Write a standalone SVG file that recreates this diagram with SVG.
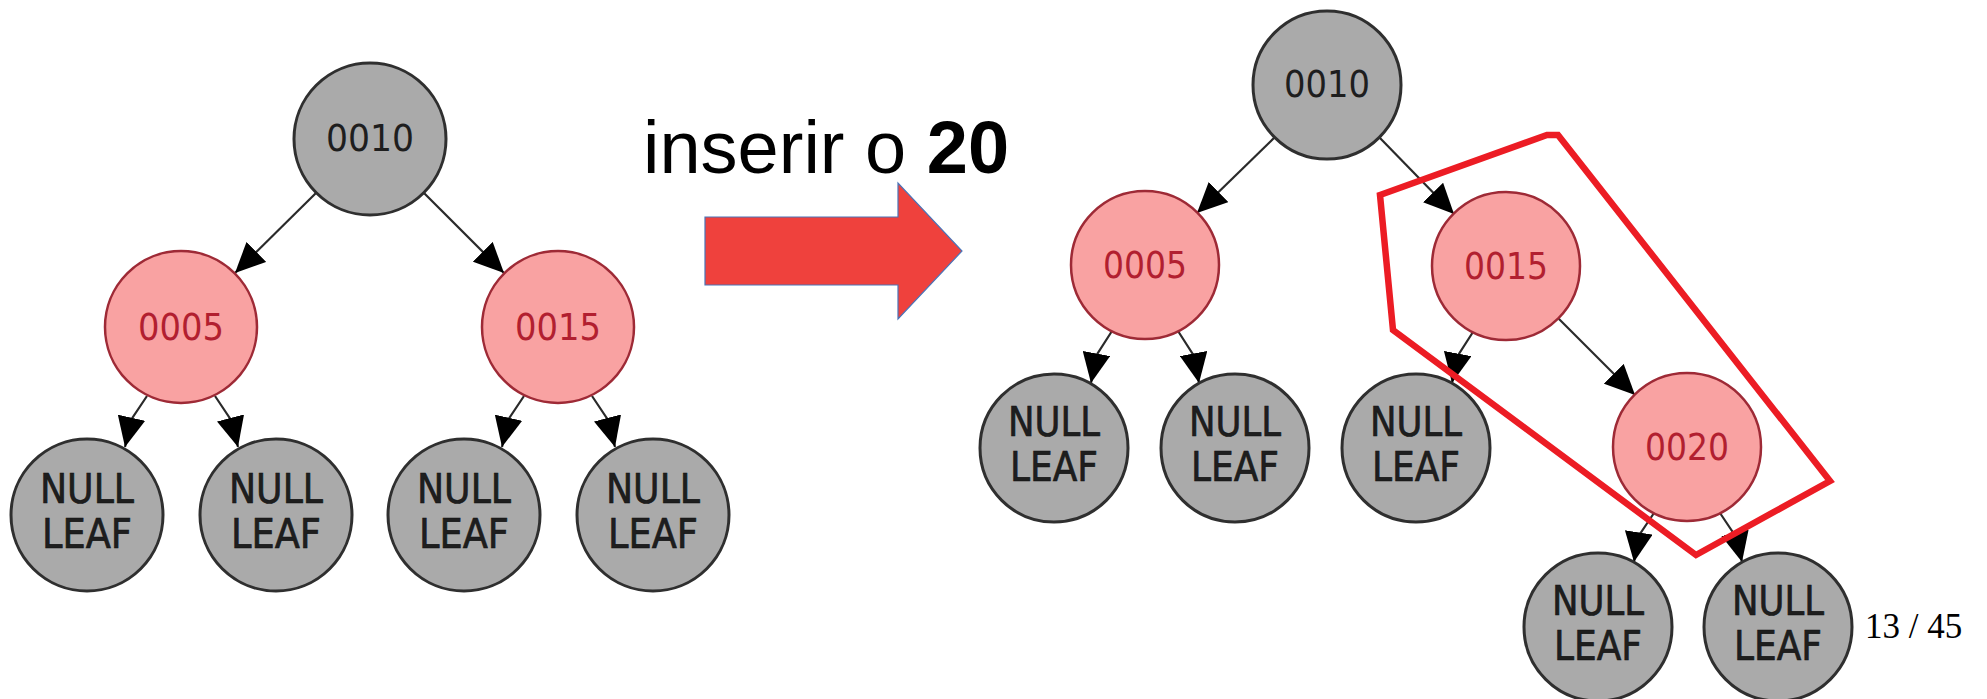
<svg xmlns="http://www.w3.org/2000/svg" width="1987" height="699" viewBox="0 0 1987 699">
<style>
.blk circle{fill:#aaaaaa;stroke:#2f2f2f;stroke-width:3}
.red circle{fill:#f9a2a2;stroke:#9e2a36;stroke-width:2.5}
.lbl{font-family:"DejaVu Sans Condensed","DejaVu Sans",sans-serif;font-size:38px;text-anchor:middle}
.blk text{fill:#1e1e1e}
.red text{fill:#b21f30}
.nl{font-family:"DejaVu Sans Condensed","DejaVu Sans",sans-serif;font-size:41px;text-anchor:middle;fill:#111;stroke:#111;stroke-width:0.6}
.edge{fill:none;stroke:#2a2a2a;stroke-width:2.2;marker-end:url(#ah)}
.title{font-family:"Liberation Sans",Arial,sans-serif;font-size:74px;fill:#000}
</style>
<defs>
<marker id="ah" markerUnits="userSpaceOnUse" viewBox="0 0 30 28" refX="30" refY="14" markerWidth="30" markerHeight="28" orient="auto">
<path d="M0,0 L30,14 L0,28 z" fill="#000"/>
</marker>
</defs>

<g id="connectors">
<!-- left tree -->
<path class="edge" d="M316,193 L235,273"/>
<path class="edge" d="M424,193 L504,273"/>
<path class="edge" d="M147,396 L131,420 L125,447"/>
<path class="edge" d="M215,396 L231,420 L238,447"/>
<path class="edge" d="M524,396 L508,420 L502,447"/>
<path class="edge" d="M592,396 L608,420 L615,447"/>
<!-- right tree -->
<path class="edge" d="M1275,137 L1197,213"/>
<path class="edge" d="M1379,137 L1454,214"/>
<path class="edge" d="M1112,331 L1096,356 L1091,383"/>
<path class="edge" d="M1178,331 L1194,356 L1199,383"/>
<path class="edge" d="M1473,332 L1457,357 L1452,383"/>
<path class="edge" d="M1558,318 L1635,395"/>
<path class="edge" d="M1654,513 L1638,537 L1634,562"/>
<path class="edge" d="M1720,513 L1736,537 L1742,562"/>
</g>

<!-- left tree nodes -->
<g id="L10" class="blk"><circle cx="370" cy="139" r="76"/><text class="lbl" x="370" y="151" textLength="88" lengthAdjust="spacingAndGlyphs">0010</text></g>
<g id="L05" class="red"><circle cx="181" cy="327" r="76"/><text class="lbl" x="181" y="340" textLength="86" lengthAdjust="spacingAndGlyphs">0005</text></g>
<g id="L15" class="red"><circle cx="558" cy="327" r="76"/><text class="lbl" x="558" y="340" textLength="86" lengthAdjust="spacingAndGlyphs">0015</text></g>
<g id="LN1" class="blk"><circle cx="87" cy="515" r="76"/><text class="nl" x="87" y="503" textLength="94" lengthAdjust="spacingAndGlyphs">NULL</text><text class="nl" x="87" y="548" textLength="90" lengthAdjust="spacingAndGlyphs">LEAF</text></g>
<g id="LN2" class="blk"><circle cx="276" cy="515" r="76"/><text class="nl" x="276" y="503" textLength="94" lengthAdjust="spacingAndGlyphs">NULL</text><text class="nl" x="276" y="548" textLength="90" lengthAdjust="spacingAndGlyphs">LEAF</text></g>
<g id="LN3" class="blk"><circle cx="464" cy="515" r="76"/><text class="nl" x="464" y="503" textLength="94" lengthAdjust="spacingAndGlyphs">NULL</text><text class="nl" x="464" y="548" textLength="90" lengthAdjust="spacingAndGlyphs">LEAF</text></g>
<g id="LN4" class="blk"><circle cx="653" cy="515" r="76"/><text class="nl" x="653" y="503" textLength="94" lengthAdjust="spacingAndGlyphs">NULL</text><text class="nl" x="653" y="548" textLength="90" lengthAdjust="spacingAndGlyphs">LEAF</text></g>

<!-- title and arrow -->
<g id="title"><text class="title" x="643" y="173">inserir o <tspan font-weight="bold">20</tspan></text></g>
<g id="bigArrow"><path d="M705,217 L898,217 L898,183 L962,251 L898,319 L898,285 L705,285 z" fill="#ef413d" stroke="#4a74b8" stroke-width="1.2"/></g>

<!-- right tree nodes -->
<g id="R10" class="blk"><circle cx="1327" cy="85" r="74"/><text class="lbl" x="1327" y="97" textLength="86" lengthAdjust="spacingAndGlyphs">0010</text></g>
<g id="R05" class="red"><circle cx="1145" cy="265" r="74"/><text class="lbl" x="1145" y="278" textLength="84" lengthAdjust="spacingAndGlyphs">0005</text></g>
<g id="R15" class="red"><circle cx="1506" cy="266" r="74"/><text class="lbl" x="1506" y="279" textLength="84" lengthAdjust="spacingAndGlyphs">0015</text></g>
<g id="R20" class="red"><circle cx="1687" cy="447" r="74"/><text class="lbl" x="1687" y="460" textLength="84" lengthAdjust="spacingAndGlyphs">0020</text></g>
<g id="RN1" class="blk"><circle cx="1054" cy="448" r="74"/><text class="nl" x="1054" y="436" textLength="92" lengthAdjust="spacingAndGlyphs">NULL</text><text class="nl" x="1054" y="481" textLength="88" lengthAdjust="spacingAndGlyphs">LEAF</text></g>
<g id="RN2" class="blk"><circle cx="1235" cy="448" r="74"/><text class="nl" x="1235" y="436" textLength="92" lengthAdjust="spacingAndGlyphs">NULL</text><text class="nl" x="1235" y="481" textLength="88" lengthAdjust="spacingAndGlyphs">LEAF</text></g>
<g id="RN3" class="blk"><circle cx="1416" cy="448" r="74"/><text class="nl" x="1416" y="436" textLength="92" lengthAdjust="spacingAndGlyphs">NULL</text><text class="nl" x="1416" y="481" textLength="88" lengthAdjust="spacingAndGlyphs">LEAF</text></g>
<g id="RN4" class="blk"><circle cx="1598" cy="627" r="74"/><text class="nl" x="1598" y="615" textLength="92" lengthAdjust="spacingAndGlyphs">NULL</text><text class="nl" x="1598" y="660" textLength="88" lengthAdjust="spacingAndGlyphs">LEAF</text></g>
<g id="RN5" class="blk"><circle cx="1778" cy="627" r="74"/><text class="nl" x="1778" y="615" textLength="92" lengthAdjust="spacingAndGlyphs">NULL</text><text class="nl" x="1778" y="660" textLength="88" lengthAdjust="spacingAndGlyphs">LEAF</text></g>

<!-- highlight outline -->
<g id="highlight"><polygon points="1380,195 1547,135 1558,135 1830,481 1696,555 1393,330" fill="none" stroke="#ec1c24" stroke-width="6.5" stroke-linejoin="miter"/></g>

<g id="pageNumber"><text x="1865" y="638" font-family="Liberation Serif,serif" font-size="35" fill="#000">13 / 45</text></g>
</svg>
